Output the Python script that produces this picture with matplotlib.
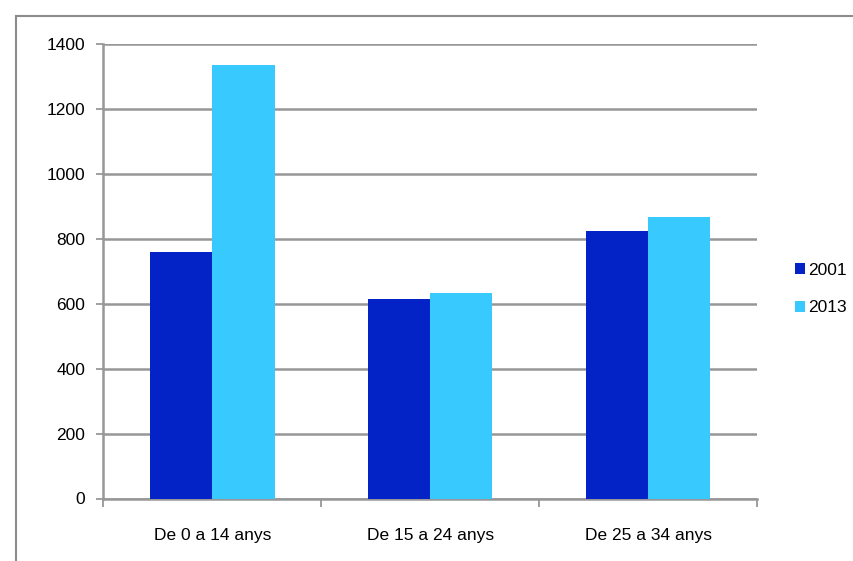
import matplotlib
matplotlib.use("Agg")
import matplotlib.pyplot as plt
import numpy as np
from matplotlib.lines import Line2D

categories = ["De 0 a 14 anys", "De 15 a 24 anys", "De 25 a 34 anys"]
series_names = ["2001", "2013"]
values_2001 = [759, 614, 824]
values_2013 = [1335, 633, 867]
y_ticks = [0, 200, 400, 600, 800, 1000, 1200, 1400]

colors = ["#0323C6", "#38CAFF"]
grid_color = "#979797"

plt.rcParams["font.family"] = ["Liberation Sans", "DejaVu Sans"]
fs = 12.5

fig = plt.figure(figsize=(8.54, 5.61), dpi=100)
ax = fig.add_axes([103.5 / 854, 1 - 498.5 / 561, (757 - 103.5) / 854, (498.5 - 44) / 561])

x = np.arange(len(categories))
width = 1 / 3.5
ax.bar(x - width / 2, values_2001, width, color=colors[0], label=series_names[0], zorder=3)
ax.bar(x + width / 2, values_2013, width, color=colors[1], label=series_names[1], zorder=3)

ax.set_xlim(-0.5, len(categories) - 0.5)
ax.set_ylim(0, 1400)
ax.set_yticks(y_ticks)
ax.set_yticklabels([str(v) for v in y_ticks], fontsize=fs)
ax.yaxis.grid(True, color=grid_color, linewidth=1.8, zorder=0)
ax.set_axisbelow(True)

# category labels centred, ticks on category boundaries
ax.set_xticks(x)
ax.set_xticklabels(categories, fontsize=fs)
ax.tick_params(axis="x", which="major", length=0, pad=21)
ax.set_xticks(np.arange(-0.5, len(categories)), minor=True)
ax.tick_params(axis="x", which="minor", length=6, width=1.3, color=grid_color, direction="out")
ax.tick_params(axis="y", length=5, width=1.3, color=grid_color, direction="out", pad=8)

for side in ["top", "right"]:
    ax.spines[side].set_visible(False)
for side in ["left", "bottom"]:
    ax.spines[side].set_color(grid_color)
    ax.spines[side].set_linewidth(1.8)

handles, labels = ax.get_legend_handles_labels()
fig.legend(handles, labels, loc="center left", bbox_to_anchor=(786 / 854, 1 - 289 / 561),
           frameon=False, fontsize=fs, handlelength=0.6, handleheight=0.6,
           handletextpad=0.2, labelspacing=1.3, borderpad=0)

# outer chart frame
fig.add_artist(Line2D([16 / 854, 16 / 854], [0, 1 - 16 / 561], transform=fig.transFigure,
                      color="#8c8c8c", linewidth=1.5))
fig.add_artist(Line2D([16 / 854, 1], [1 - 16 / 561, 1 - 16 / 561], transform=fig.transFigure,
                      color="#8c8c8c", linewidth=1.5))

fig.savefig("out.png", dpi=100)
